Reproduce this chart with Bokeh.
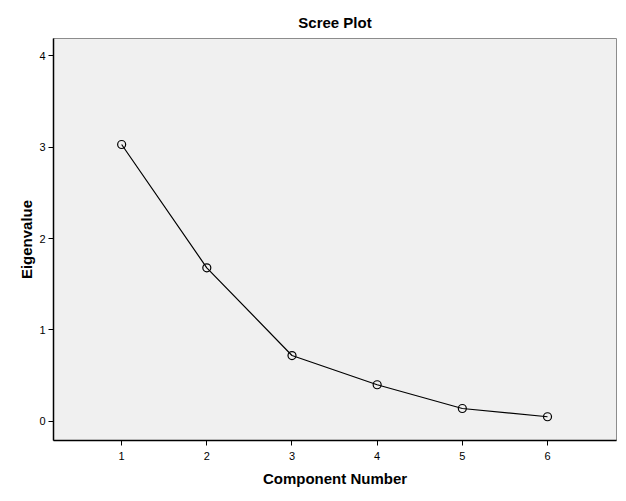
from bokeh.plotting import figure
from bokeh.models import Range1d, FixedTicker
from bokeh.embed import file_html
from bokeh.resources import INLINE

components = [1, 2, 3, 4, 5, 6]
eigenvalues = [3.03, 1.68, 0.72, 0.40, 0.14, 0.05]
y_ticks = [0, 1, 2, 3, 4]

FONT = "Liberation Sans"

p = figure(width=626, height=501, output_backend="svg", toolbar_location=None,
           x_range=Range1d(0.2, 6.81), y_range=Range1d(-0.21, 4.19),
           min_border_left=53, min_border_right=10, min_border_top=38, min_border_bottom=61)
p.border_fill_color = "white"
p.title.text = "Scree Plot"
p.title.align = "center"
p.title.text_font = FONT
p.title.text_font_size = "15px"
p.title.text_font_style = "bold"
p.title.text_color = "black"
p.title.offset = 0
p.title.standoff = 16
p.background_fill_color = "#F0F0F0"
p.outline_line_color = "#8c8c8c"
p.outline_line_width = 1
p.xgrid.visible = False
p.ygrid.visible = False

p.xaxis.ticker = FixedTicker(ticks=components)
p.yaxis.ticker = FixedTicker(ticks=y_ticks)
for ax in (p.xaxis[0], p.yaxis[0]):
    ax.axis_line_color = "black"
    ax.axis_line_width = 1.5
    ax.major_tick_line_color = "black"
    ax.major_tick_line_width = 1
    ax.major_tick_out = 5
    ax.major_tick_in = 0
    ax.minor_tick_line_color = None
    ax.major_label_text_font = FONT
    ax.major_label_text_font_size = "11px"
    ax.major_label_text_color = "black"
    ax.axis_label_text_font = FONT
    ax.axis_label_text_font_size = "15px"
    ax.axis_label_text_font_style = "bold"
    ax.axis_label_text_color = "black"
p.xaxis.axis_label = "Component Number"
p.yaxis.axis_label = "Eigenvalue"
p.xaxis.major_label_standoff = 6
p.yaxis.major_label_standoff = 3
p.xaxis.axis_label_standoff = 7
p.yaxis.axis_label_standoff = 1

p.line(components, eigenvalues, line_color="black", line_width=1.2)
p.scatter(components, eigenvalues, size=8, marker="circle", fill_color=None,
          line_color="black", line_width=1.2)

open("out.html", "w").write(file_html(p, INLINE))
